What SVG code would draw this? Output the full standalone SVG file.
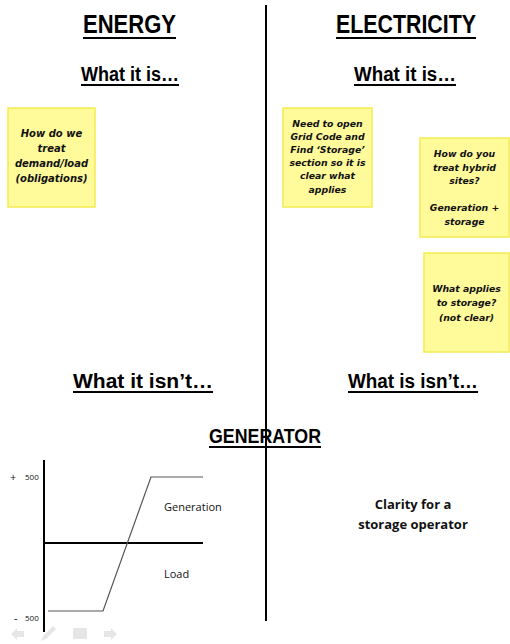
<svg xmlns="http://www.w3.org/2000/svg" width="510" height="644" viewBox="0 0 510 644">
<style>
.h1{font-family:"Liberation Sans",Arial,sans-serif;font-weight:bold;font-size:26px;fill:#000;text-anchor:middle}
.h2{font-family:"Liberation Sans",Arial,sans-serif;font-weight:bold;font-size:20px;fill:#000;text-anchor:middle}
.ul{stroke:#000;stroke-width:2}
.note{fill:#FFFA9A;stroke:#F5EC50;stroke-width:1.5}
.nt{font-family:"DejaVu Sans",sans-serif;font-weight:bold;font-style:oblique;font-size:10px;fill:#111;text-anchor:middle}
.lbl{font-family:"Open Sans","Liberation Sans",sans-serif;font-size:11px;fill:#111}
.sm{font-family:"Open Sans","Liberation Sans",sans-serif;font-size:8px;fill:#111}
.body{font-family:"Open Sans","Liberation Sans",sans-serif;font-weight:bold;font-size:13px;fill:#111;text-anchor:middle}
.nav{fill:#e6e6e6}
</style>
<g id="divider"><line x1="266" y1="5" x2="266" y2="621" stroke="#000" stroke-width="2"/></g>
<g id="energy-title"><text class="h1" x="129.5" y="33" textLength="93" lengthAdjust="spacingAndGlyphs">ENERGY</text><line class="ul" x1="83" y1="38" x2="176" y2="38"/></g>
<g id="electricity-title"><text class="h1" x="406" y="33" textLength="140" lengthAdjust="spacingAndGlyphs">ELECTRICITY</text><line class="ul" x1="336" y1="38" x2="476" y2="38"/></g>
<g id="energy-is"><text class="h2" x="130" y="81" textLength="98" lengthAdjust="spacingAndGlyphs">What it is…</text><line class="ul" x1="81" y1="85" x2="179" y2="85"/></g>
<g id="electricity-is"><text class="h2" x="405" y="81" textLength="102" lengthAdjust="spacingAndGlyphs">What it is…</text><line class="ul" x1="354" y1="85" x2="456" y2="85"/></g>
<g id="energy-isnt"><text class="h2" x="143" y="388" textLength="140" lengthAdjust="spacingAndGlyphs">What it isn’t…</text><line class="ul" x1="73" y1="392" x2="213" y2="392"/></g>
<g id="electricity-isnt"><text class="h2" x="413" y="388" textLength="130" lengthAdjust="spacingAndGlyphs">What is isn’t…</text><line class="ul" x1="348" y1="392" x2="478" y2="392"/></g>
<g id="generator-title"><text class="h2" x="265" y="443" textLength="112" lengthAdjust="spacingAndGlyphs">GENERATOR</text><line class="ul" x1="209" y1="447" x2="321" y2="447"/></g>
<g id="note1"><rect class="note" x="8" y="108" width="87" height="99"/>
<text class="nt" x="51.5"><tspan x="51.5" y="137">How do we</tspan><tspan x="51.5" y="152">treat</tspan><tspan x="51.5" y="167">demand/load</tspan><tspan x="51.5" y="182">(obligations)</tspan></text></g>
<g id="note2"><rect class="note" x="283" y="108" width="89" height="99"/>
<text class="nt" x="327.5" style="font-size:9.3px"><tspan x="327.5" y="127">Need to open</tspan><tspan x="327.5" y="140">Grid Code and</tspan><tspan x="327.5" y="153">Find ‘Storage’</tspan><tspan x="327.5" y="166">section so it is</tspan><tspan x="327.5" y="179">clear what</tspan><tspan x="327.5" y="193">applies</tspan></text></g>
<g id="note3"><rect class="note" x="420" y="138" width="89" height="99"/>
<text class="nt" x="464.5" style="font-size:9.3px"><tspan x="464.5" y="157">How do you</tspan><tspan x="464.5" y="171">treat hybrid</tspan><tspan x="464.5" y="184">sites?</tspan><tspan x="464.5" y="211">Generation +</tspan><tspan x="464.5" y="225">storage</tspan></text></g>
<g id="note4"><rect class="note" x="424" y="253" width="85" height="99"/>
<text class="nt" x="466.5" style="font-size:9.3px"><tspan x="466.5" y="292">What applies</tspan><tspan x="466.5" y="306">to storage?</tspan><tspan x="466.5" y="321">(not clear)</tspan></text></g>
<g id="chart">
<line x1="44" y1="460" x2="44" y2="632" stroke="#000" stroke-width="2"/>
<line x1="44" y1="543" x2="203" y2="543" stroke="#000" stroke-width="2"/>
<polyline points="48,611 103,611 151,477 203,477" fill="none" stroke="#555" stroke-width="1.2"/>
<text class="lbl" x="10" y="481">+</text><text class="sm" x="25" y="480">500</text>
<text class="lbl" x="14" y="622">-</text><text class="sm" x="25" y="621">500</text>
<text class="lbl" x="164" y="511">Generation</text>
<text class="lbl" x="164" y="578">Load</text>
</g>
<g id="clarity"><text class="body"><tspan x="413" y="509">Clarity for a</tspan><tspan x="413" y="529">storage operator</tspan></text></g>
<g id="nav">
<path class="nav" d="M11,634 L17,628 L17,631 L24,631 L24,637 L17,637 L17,640 Z"/>
<path class="nav" d="M41,641 L43,636 L53,626 L56,629 L46,639 Z"/>
<rect class="nav" x="73" y="628" width="14" height="11" rx="1"/>
<path class="nav" d="M117,634 L111,628 L111,631 L104,631 L104,637 L111,637 L111,640 Z"/>
</g>
</svg>
